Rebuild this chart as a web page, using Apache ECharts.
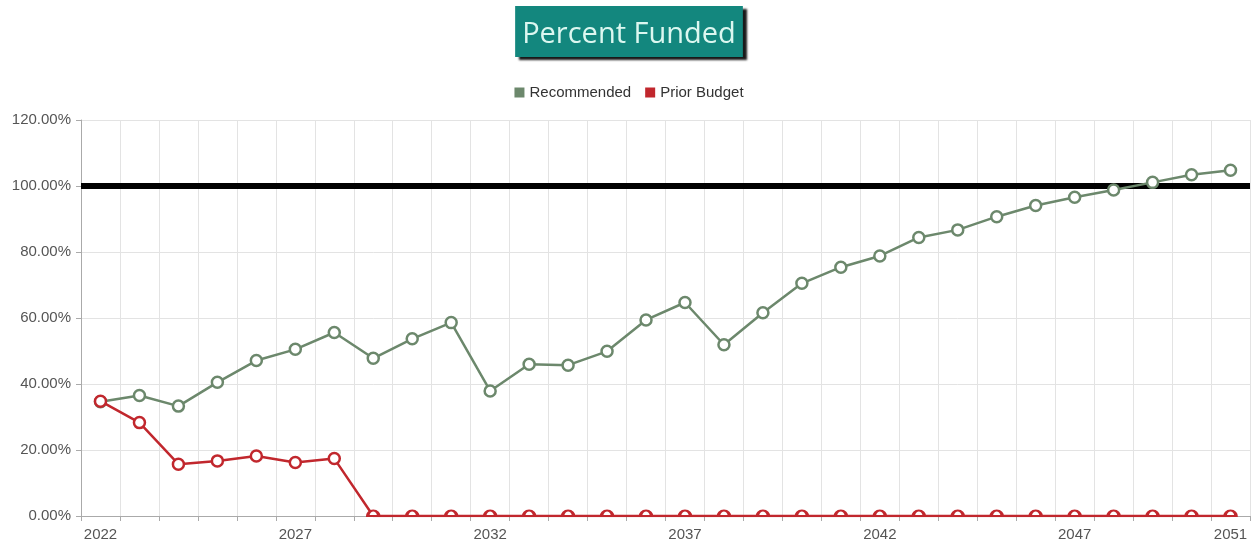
<!DOCTYPE html>
<html>
<head>
<meta charset="utf-8">
<script src="https://cdn.jsdelivr.net/npm/echarts@6/dist/echarts.min.js"></script>
<style>
  html, body { margin: 0; padding: 0; background: #fff; }
  #chart { width: 1258px; height: 544px; }
</style>
</head>
<body>
<div id="chart"></div>
<script>
// Fiscal years on the category axis
const years = [];
for (let y = 2022; y <= 2051; y++) years.push(String(y));

// Percent funded per year
const recommended = [34.6, 36.5, 33.3, 40.5, 47.1, 50.5, 55.6, 47.8, 53.7, 58.6,
  37.9, 46.0, 45.7, 49.9, 59.4, 64.7, 51.9, 61.6, 70.5, 75.4,
  78.8, 84.4, 86.7, 90.7, 94.1, 96.6, 98.8, 101.1, 103.4, 104.8];
const priorBudget = [34.8, 28.3, 15.7, 16.7, 18.2, 16.2, 17.4, 0, 0, 0,
  0, 0, 0, 0, 0, 0, 0, 0, 0, 0,
  0, 0, 0, 0, 0, 0, 0, 0, 0, 0];

// Full funding target
const target = 100;
const yTicks = [0, 20, 40, 60, 80, 100, 120];

const GREEN = '#6c886c';
const RED = '#c1272d';
// upper half of a hollow marker, for points sitting on the baseline
const HALF_CIRCLE = 'path://M0,10 A10,10 0 0 1 20,10 Z';

const chart = echarts.init(document.getElementById('chart'));
chart.setOption({
  animation: false,
  title: {
    text: 'Percent Funded',
    left: 'center',
    top: 6,
    backgroundColor: '#13877e',
    padding: [14, 7, 7, 7],
    shadowColor: 'rgba(0,0,0,0.9)',
    shadowBlur: 2,
    shadowOffsetX: 4,
    shadowOffsetY: 3,
    textStyle: {
      color: '#dcf7f0',
      fontFamily: 'Open Sans',
      fontSize: 29,
      lineHeight: 30,
      fontWeight: 'normal'
    }
  },
  legend: {
    top: 80,
    left: 'center',
    icon: 'rect',
    itemWidth: 10,
    itemHeight: 10,
    itemGap: 14,
    textStyle: { fontFamily: 'Liberation Sans', fontSize: 15, color: '#333' },
    data: [
      { name: 'Recommended', itemStyle: { color: GREEN, borderWidth: 0 } },
      { name: 'Prior Budget', itemStyle: { color: RED, borderWidth: 0 } }
    ]
  },
  grid: { left: 81, right: 8, top: 120, bottom: 28 },
  xAxis: {
    type: 'category',
    data: years,
    boundaryGap: true,
    axisLine: { lineStyle: { color: '#aaa', width: 1 } },
    axisTick: { show: true, interval: 0, length: 5, lineStyle: { color: '#aaa' } },
    splitLine: { show: true, interval: 0, lineStyle: { color: '#e3e3e3' } },
    axisLabel: {
      interval: (i) => i % 5 === 0 || i === years.length - 1,
      color: '#555',
      fontFamily: 'Liberation Sans',
      fontSize: 15,
      margin: 11
    }
  },
  yAxis: {
    type: 'value',
    min: yTicks[0],
    max: yTicks[yTicks.length - 1],
    interval: 20,
    axisLine: { show: true, lineStyle: { color: '#aaa', width: 1 } },
    axisTick: { show: true, length: 5, lineStyle: { color: '#aaa' } },
    splitLine: { show: true, lineStyle: { color: '#e3e3e3' } },
    axisLabel: {
      formatter: (v) => v.toFixed(2) + '%',
      color: '#555',
      fontFamily: 'Liberation Sans',
      fontSize: 15,
      margin: 10
    }
  },
  series: [
    {
      name: 'Recommended',
      type: 'line',
      data: recommended,
      color: GREEN,
      symbol: 'circle',
      symbolSize: 11,
      showAllSymbol: true,
      lineStyle: { color: GREEN, width: 2.5 },
      itemStyle: { color: '#fff', borderColor: GREEN, borderWidth: 2.5 },
      z: 3,
      markLine: {
        silent: true,
        symbol: 'none',
        label: { show: false },
        lineStyle: { color: '#000', width: 6, type: 'solid' },
        data: [{ yAxis: target }],
        z: 2
      }
    },
    {
      name: 'Prior Budget',
      type: 'line',
      data: priorBudget,
      color: RED,
      showAllSymbol: true,
      symbol: (v) => (v === 0 ? HALF_CIRCLE : 'circle'),
      symbolSize: (v) => (v === 0 ? [11, 5.5] : 11),
      symbolOffset: (v) => (v === 0 ? [0, -2.75] : [0, 0]),
      lineStyle: { color: RED, width: 2.5 },
      itemStyle: { color: '#fff', borderColor: RED, borderWidth: 2.5 },
      z: 4
    }
  ]
});
</script>
</body>
</html>
